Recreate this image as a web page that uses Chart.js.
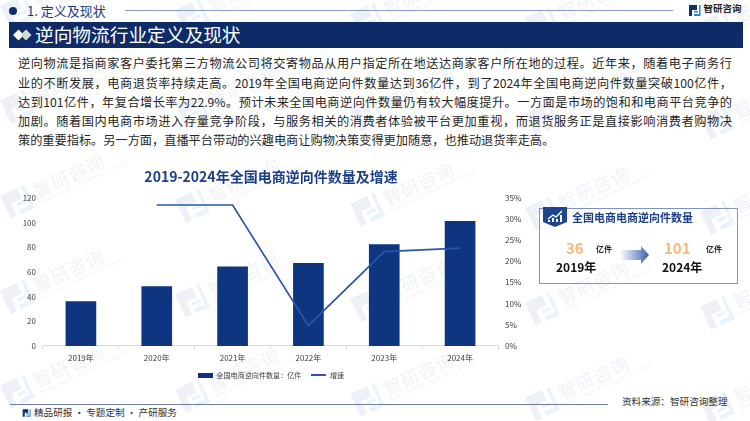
<!DOCTYPE html>
<html lang="zh">
<head>
<meta charset="utf-8">
<script src="https://cdn.jsdelivr.net/npm/chart.js@4/dist/chart.umd.min.js"></script>
<style>
html, body { margin: 0; padding: 0; background: #fff; }
body { width: 750px; height: 421px; position: relative; overflow: hidden; font-family: "Noto Sans CJK SC", "Noto Sans", sans-serif; }
.abs { position: absolute; white-space: nowrap; line-height: 1; }
#wm { position: absolute; left: 0; top: 0; width: 750px; height: 421px; overflow: hidden; }
.wm-item { position: absolute; transform: rotate(-25deg); transform-origin: 15px center; display: flex; align-items: center; color: #f0f3f8; white-space: nowrap; }
.wm-name { font-size: 18px; letter-spacing: 1px; line-height: 20px; }
.wm-sub { font-size: 5px; letter-spacing: 0.4px; line-height: 7px; font-family: "Liberation Sans", sans-serif; }
.body-line { position: absolute; left: 18px; width: 714px; font-size: 12.2px; line-height: 16px; color: #262626; white-space: nowrap; }
.body-line.j { text-align: justify; text-align-last: justify; white-space: normal; }
#chartBox { position: absolute; left: 0; top: 160px; width: 542px; height: 229px; }
#panel { position: absolute; left: 539px; top: 208px; width: 197px; height: 74px; border: 1px solid #7f93bf; }
</style>
</head>
<body>
<div id="wm"></div>

<!-- header -->
<div class="abs" style="left:9px;top:7px;width:8px;height:8px;border-radius:50%;background:#12306e"></div>
<div class="abs" style="left:27px;top:4px;font-size:13px;color:#1c3a78">1. 定义及现状</div>
<div class="abs" style="left:125px;top:10px;width:548px;height:1px;background:#8b9cc4"></div>
<svg class="abs" style="left:688px;top:4px" width="13" height="13" viewBox="0 0 13 13">
  <path d="M1 1H9V6H4V12H1Z" fill="#12306e"/>
  <path d="M11 1H12.5V12H6V10H11Z M6 7H10V8.5H6Z" fill="#2f86d0"/>
</svg>
<div class="abs" style="left:703.5px;top:4px;font-size:9.5px;font-weight:700;color:#262626">智研咨询</div>

<div class="abs" style="left:9px;top:22px;width:734px;height:26px;background:#0e2b68"></div>
<svg class="abs" style="left:13px;top:29px" width="19" height="12" viewBox="0 0 19 12">
  <path d="M5.5 0.5L11 6L5.5 11.5L0 6Z" fill="#fff"/>
  <path d="M13 0.5L18.5 6L13 11.5L7.5 6Z" fill="#d9d9d9"/>
</svg>
<div class="abs" style="left:35px;top:25px;font-size:18.7px;color:#fff">逆向物流行业定义及现状</div>

<!-- body text -->
<div class="body-line j" style="top:55px">逆向物流是指商家客户委托第三方物流公司将交寄物品从用户指定所在地送达商家客户所在地的过程。近年来，随着电子商务行</div>
<div class="body-line j" style="top:74.5px">业的不断发展，电商退货率持续走高。2019年全国电商逆向件数量达到36亿件，到了2024年全国电商逆向件数量突破100亿件，</div>
<div class="body-line j" style="top:94px">达到101亿件，年复合增长率为22.9%。预计未来全国电商逆向件数量仍有较大幅度提升。一方面是市场的饱和和电商平台竞争的</div>
<div class="body-line j" style="top:113px">加剧。随着国内电商市场进入存量竞争阶段，与服务相关的消费者体验被平台更加重视，而退货服务正是直接影响消费者购物决</div>
<div class="body-line" style="top:132px">策的重要指标。另一方面，直播平台带动的兴趣电商让购物决策变得更加随意，也推动退货率走高。</div>

<div id="chartBox"><canvas id="combo"></canvas></div>

<!-- right summary panel -->
<div id="panel"></div>
<svg class="abs" style="left:543px;top:207px" width="24" height="20" viewBox="0 0 24 20">
  <path d="M0 0H24V15L12 20L0 15Z" fill="#1f4590"/>
  <path d="M5 12L10 8L13 10L19 4" fill="none" stroke="#fff" stroke-width="1.4"/>
  <path d="M5 13h2v2H5z M9 11h2v4H9z M13 12h2v3h-2z M17 8h2v7h-2z" fill="#fff"/>
</svg>
<div class="abs" style="left:572px;top:212px;font-size:11px;font-weight:700;color:#1c3f88">全国电商电商逆向件数量</div>
<div class="abs" style="left:566px;top:240px;font-size:15px;font-weight:700;color:#f9b878">36</div>
<div class="abs" style="left:596px;top:245px;font-size:8px;font-weight:700;color:#262626">亿件</div>
<div class="abs" style="left:556px;top:261px;font-size:12px;font-weight:700;color:#111">2019年</div>
<svg class="abs" style="left:620px;top:246px" width="29" height="18" viewBox="0 0 29 18">
  <defs><linearGradient id="arrowFill" x1="0" x2="1" y1="0" y2="0">
    <stop offset="0" stop-color="#fff"/><stop offset="1" stop-color="#3a62ac"/>
  </linearGradient></defs>
  <path d="M0 4H21V0L29 9L21 18V14H0Z" fill="url(#arrowFill)"/>
</svg>
<div class="abs" style="left:664px;top:240px;font-size:15px;font-weight:700;color:#f9b878">101</div>
<div class="abs" style="left:706px;top:245px;font-size:8px;font-weight:700;color:#262626">亿件</div>
<div class="abs" style="left:662px;top:261px;font-size:12px;font-weight:700;color:#111">2024年</div>

<!-- footer -->
<div class="abs" style="left:10px;top:404px;width:598px;height:1px;background:#6f7f9f"></div>
<svg class="abs" style="left:22px;top:408px" width="9" height="10" viewBox="0 0 13 13">
  <path d="M1 1H9V6H4V12H1Z" fill="#12306e"/>
  <path d="M11 1H12.5V12H6V10H11Z M6 7H10V8.5H6Z" fill="#2f86d0"/>
</svg>
<div class="abs" style="left:34px;top:408px;font-size:9.6px;color:#333">精品研报 · 专题定制 · 产研服务</div>
<div class="abs" style="left:622px;top:397px;font-size:9.6px;color:#333">资料来源：智研咨询整理</div>

<script>
// chart data
const years = ["2019年", "2020年", "2021年", "2022年", "2023年", "2024年"];
const volume = [36, 48, 64, 67, 82, 101];
const growth = [null, 33.3, 33.3, 4.8, 22.3, 23.1];
const leftTicks = [0, 20, 40, 60, 80, 100, 120];
const rightTicks = [0, 5, 10, 15, 20, 25, 30, 35];

const BAR_COLOR = "#0d3580";
const LINE_COLOR = "#2b57a8";
const TICK_COLOR = "#404040";

Chart.defaults.font.family = '"Noto Sans CJK SC", sans-serif';

// watermarks, repeated over the whole page
function addWatermarks() {
    var wm = document.getElementById("wm");
    for (let row = 0; row < 5; row++) {
        for (let col = 0; col < 5; col++) {
            var item = document.createElement("div");
            item.className = "wm-item";
            item.style.left = (2 + col * 175) + "px";
            item.style.top = (-3 + row * 95 + col * 4) + "px";
            item.innerHTML = '<svg width="30" height="30" viewBox="0 0 13 13" style="margin-right:5px"><path d="M1 1H9V6H4V12H1Z" fill="#edf1f7"/><path d="M11 1H12.5V12H6V10H11Z M6 7H10V8.5H6Z" fill="#e9f3fb"/></svg>'
                + '<div><div class="wm-name">智研咨询</div><div class="wm-sub">INTELLIGENCE RESEARCH GROUP</div></div>';
            wm.appendChild(item);
        }
    }
}
addWatermarks();

// small swatch used as a legend marker
function swatch(width, height, color) {
    var c = document.createElement("canvas");
    c.width = width;
    c.height = height;
    var g = c.getContext("2d");
    g.fillStyle = color;
    g.fillRect(0, 0, width, height);
    return c;
}

var ctx = document.getElementById("combo");
var myChart = new Chart(ctx, {
    type: "bar",
    data: {
        labels: years,
        datasets: [
            {
                type: "line",
                label: "增速",
                data: growth,
                yAxisID: "y1",
                borderColor: LINE_COLOR,
                borderWidth: 1.7,
                pointRadius: 0,
                tension: 0,
                spanGaps: false,
                order: 0,
                pointStyle: swatch(15, 2, LINE_COLOR)
            },
            {
                type: "bar",
                label: "全国电商逆向件数量：亿件",
                data: volume,
                yAxisID: "y",
                backgroundColor: BAR_COLOR,
                barThickness: 30,
                order: 1,
                pointStyle: swatch(15, 5, BAR_COLOR)
            }
        ]
    },
    options: {
        responsive: true,
        maintainAspectRatio: false,
        animation: false,
        layout: { padding: 0 },
        scales: {
            x: {
                offset: true,
                grid: { display: true, offset: true, drawOnChartArea: false, drawTicks: true, tickLength: 3, color: "#d9d9d9" },
                border: { color: "#d9d9d9" },
                ticks: { color: TICK_COLOR, font: { size: 8 }, padding: 4, maxRotation: 0 },
                afterFit: function (scale) { scale.height = 16; }
            },
            y: {
                position: "left",
                min: 0,
                max: 120,
                afterBuildTicks: function (scale) { scale.ticks = leftTicks.map(function (v) { return { value: v }; }); },
                grid: { display: false, drawTicks: false },
                border: { display: false },
                ticks: { color: TICK_COLOR, font: { size: 8 }, padding: 7 },
                afterFit: function (scale) { scale.width = 43; }
            },
            y1: {
                position: "right",
                min: 0,
                max: 35,
                afterBuildTicks: function (scale) { scale.ticks = rightTicks.map(function (v) { return { value: v }; }); },
                grid: { display: false, drawTicks: false },
                border: { display: false },
                ticks: {
                    color: TICK_COLOR,
                    font: { size: 8 },
                    padding: 7,
                    callback: function (v) { return v + "%"; }
                },
                afterFit: function (scale) { scale.width = 44; }
            }
        },
        plugins: {
            title: {
                display: true,
                text: "2019-2024年全国电商逆向件数量及增速",
                color: "#1c3f88",
                font: { size: 14, weight: "bold" },
                padding: { top: 8, bottom: 13 }
            },
            legend: {
                display: true,
                position: "bottom",
                reverse: true,
                labels: {
                    usePointStyle: true,
                    pointStyleWidth: 15,
                    color: TICK_COLOR,
                    font: { size: 7.1 },
                    padding: 10
                }
            },
            tooltip: { enabled: false }
        }
    }
});
</script>
</body>
</html>
